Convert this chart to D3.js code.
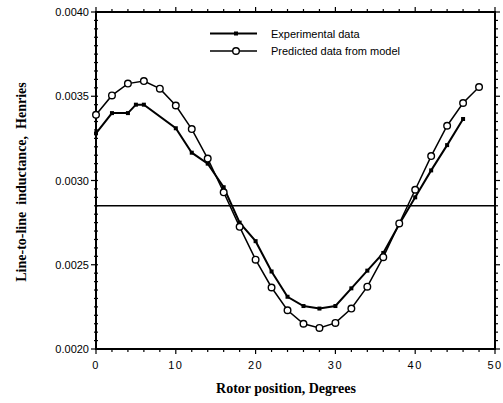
<!DOCTYPE html>
<html><head><meta charset="utf-8">
<script src="https://cdn.jsdelivr.net/npm/d3@7"></script>
<style>body{margin:0;background:#fff}</style>
</head><body><svg id="c" width="503" height="403"></svg>
<script>
const expX = [0,2,4,5,6,10,12,14,16,18,20,22,24,26,28,30,32,34,36,38,40,42,44,46];
const expY = [0.00328,0.00340,0.00340,0.00345,0.00345,0.00331,0.003165,0.00310,0.00296,0.00275,0.00264,0.00246,0.00231,0.002255,0.00224,0.002255,0.00236,0.002465,0.00257,0.00274,0.00290,0.00306,0.00321,0.003365];
const predX = [0,2,4,6,8,10,12,14,16,18,20,22,24,26,28,30,32,34,36,38,40,42,44,46,48];
const predY = [0.00339,0.003505,0.003575,0.00359,0.003545,0.003445,0.003305,0.00313,0.00293,0.002725,0.00253,0.002365,0.00223,0.00215,0.002125,0.002155,0.00224,0.00237,0.002545,0.002745,0.002945,0.003145,0.003325,0.00346,0.003555];
const refLine = 0.00285;
const xTicks = [0,10,20,30,40,50];
const yTicks = [0.0020,0.0025,0.0030,0.0035,0.0040];
const legendLabels = ["Experimental data","Predicted data from model"];
const xTitle = "Rotor position, Degrees";
const yTitle = "Line-to-line  inductance,  Henries";

const svg = d3.select("#c");
const L=96,R=495,T=12,B=349;
const x = d3.scaleLinear().domain([0,50]).range([L,R]);
const y = d3.scaleLinear().domain([0.0020,0.0040]).range([B,T]);
const g = svg.append("g");

// frame
g.append("rect").attr("x",L).attr("y",T).attr("width",R-L).attr("height",B-T)
 .attr("fill","none").attr("stroke","#000").attr("stroke-width",2);

// minor ticks
const xMinor = d3.range(0,50.01,2);
const yMinor = d3.range(0,41).map(i=>0.0020+i*0.00005);
xMinor.forEach(v=>{
  const maj = xTicks.includes(v);
  g.append("line").attr("x1",x(v)).attr("x2",x(v)).attr("y1",B).attr("y2",B+(maj?5:3)).attr("stroke","#000").attr("stroke-width",1.2);
  g.append("line").attr("x1",x(v)).attr("x2",x(v)).attr("y1",T).attr("y2",T-(maj?5:3)).attr("stroke","#000").attr("stroke-width",1.2);
});
yMinor.forEach(v=>{
  const maj = yTicks.some(t=>Math.abs(t-v)<1e-9);
  g.append("line").attr("x1",L-(maj?5:2)).attr("x2",L+2).attr("y1",y(v)).attr("y2",y(v)).attr("stroke","#000").attr("stroke-width",1.2);
  g.append("line").attr("x1",R).attr("x2",R+(maj?5:3)).attr("y1",y(v)).attr("y2",y(v)).attr("stroke","#000").attr("stroke-width",1.2);
});

// tick labels
g.selectAll(".xl").data(xTicks).enter().append("text")
 .attr("x",d=>x(d)+ (d===0?0:0)).attr("y",369).attr("text-anchor","middle")
 .attr("font-family","Liberation Sans, Arial").attr("font-size",11).attr("letter-spacing",1.5)
 .text(d=>d);
g.selectAll(".yl").data(yTicks).enter().append("text")
 .attr("x",L-7).attr("y",d=>y(d)+4).attr("text-anchor","end")
 .attr("font-family","Liberation Sans, Arial").attr("font-size",11)
 .text(d=>d.toFixed(4));

// reference line
g.append("line").attr("x1",L).attr("x2",R).attr("y1",y(refLine)).attr("y2",y(refLine))
 .attr("stroke","#000").attr("stroke-width",1.5);

// predicted line
const line = d3.line().x(d=>x(d[0])).y(d=>y(d[1]));
const pred = predX.map((v,i)=>[v,predY[i]]);
const exp = expX.map((v,i)=>[v,expY[i]]);
g.append("path").attr("d",line(pred)).attr("fill","none").attr("stroke","#000").attr("stroke-width",1.5);
g.append("path").attr("d",line(exp)).attr("fill","none").attr("stroke","#000").attr("stroke-width",2);
g.selectAll(".sq").data(exp).enter().append("rect")
 .attr("x",d=>x(d[0])-2).attr("y",d=>y(d[1])-2).attr("width",4).attr("height",4).attr("fill","#000");
g.selectAll(".ci").data(pred).enter().append("circle")
 .attr("cx",d=>x(d[0])).attr("cy",d=>y(d[1])).attr("r",3.3)
 .attr("fill","#fff").attr("stroke","#000").attr("stroke-width",1.4);

// legend
const lg = g.append("g");
[0,1].forEach(i=>{
  const yy = 33.5 + i*17.5;
  lg.append("line").attr("x1",210).attr("x2",257).attr("y1",yy).attr("y2",yy).attr("stroke","#000").attr("stroke-width",i===0?2:1.5);
  if(i===0) lg.append("rect").attr("x",234).attr("y",yy-2).attr("width",4).attr("height",4).attr("fill","#000");
  else lg.append("circle").attr("cx",236).attr("cy",yy).attr("r",3.3).attr("fill","#fff").attr("stroke","#000").attr("stroke-width",1.4);
  lg.append("text").attr("x",271).attr("y",yy+4).attr("font-family","Liberation Sans, Arial").attr("font-size",11)
    .text(legendLabels[i]);
});

// titles
g.append("text").attr("x",286).attr("y",393).attr("text-anchor","middle")
 .attr("font-family","Liberation Serif, Times New Roman").attr("font-weight","bold").attr("font-size",14)
 .text(xTitle);
g.append("text").attr("transform","translate(26,182) rotate(-90)").attr("text-anchor","middle")
 .attr("font-family","Liberation Serif, Times New Roman").attr("font-weight","bold").attr("font-size",14)
 .style("white-space","pre").text(yTitle);
</script></body></html>
